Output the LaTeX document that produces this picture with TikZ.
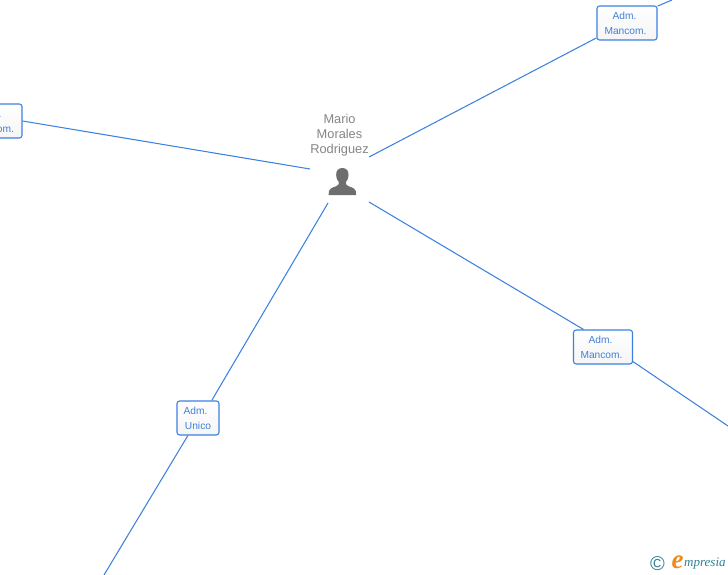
\documentclass[tikz,border=0pt]{standalone}
\usepackage{fontspec}
\setmainfont{Liberation Sans}
\newfontfamily\logofont[Ligatures=TeX]{Liberation Serif}
\definecolor{linkblue}{HTML}{3C80E0}
\definecolor{labelblue}{HTML}{4080D8}
\definecolor{namegrey}{HTML}{858585}
\definecolor{persongrey}{HTML}{6E6E6E}
\definecolor{logoteal}{HTML}{2F7F96}
\definecolor{logoorange}{HTML}{EE8A1E}
\newcommand{\rolerow}[2]{\raisebox{-1pt}{#1\hspace*{#2pt}}}
\tikzset{
  link/.style={draw=linkblue,line width=1.05pt},
  rolebox/.style={draw=linkblue,line width=1.1pt,rounded corners=2.6pt,top color=white,bottom color=black!4,
    text=labelblue,align=center,inner sep=0pt,font=\fontsize{10.2}{15}\selectfont},
}
\begin{document}
\begin{tikzpicture}[x=1pt,y=-1pt]
\useasboundingbox (0,0) rectangle (728,575);
\clip (0,0) rectangle (728,575);
% person anchors
\coordinate (pL) at (310,169);
\coordinate (pTR) at (369,157);
\coordinate (pBR) at (369,202);
\coordinate (pBL) at (328,203);
% free ends
\coordinate (fTR) at (672,0);
\coordinate (fBR) at (728,426);
\coordinate (fBL) at (104,575);
% boxes
\node[rolebox,minimum width=60pt,minimum height=34pt] (tr) at (627,23) {\rolerow{Adm.}{5}\\\rolerow{Mancom.}{3}};
\node[rolebox,minimum width=59pt,minimum height=34pt] (br) at (603,347) {\rolerow{Adm.}{5}\\\rolerow{Mancom.}{3}};
\node[rolebox,minimum width=42pt,minimum height=34pt] (bl) at (198,418) {\rolerow{Adm.}{5}\\\rolerow{Unico}{0}};
\node[rolebox,minimum width=60pt,minimum height=34pt] (lb) at (-8,121) {\rolerow{Adm.}{5}\\\rolerow{Mancom.}{-2}};
% connectors
\draw[link] (pL) -- (lb.east);
\draw[link] (pTR) -- (tr.206.6);
\draw[link] (tr.29.5) -- (fTR);
\draw[link] (pBR) -- (br.138);
\draw[link] (br.-26) -- (fBR);
\draw[link] (pBL) -- (bl.52.6);
\draw[link] (bl.240) -- (fBL);
% name
\node[text=namegrey,align=center,inner sep=0pt,font=\fontsize{12.8}{15}\selectfont] (name) at (339.5,135) {Mario\\Morales\\Rodriguez};
% person icon
\fill[persongrey] (342.3,168) .. controls (337.6,168) and (336,171.5) .. (336.2,175)
  .. controls (336.3,178.5) and (337.6,181) .. (339,182.4)
  .. controls (339.2,184.5) and (338,185.6) .. (335.5,186.5)
  .. controls (331.5,187.8) and (329.5,188.8) .. (329,191)
  -- (328.6,195) -- (356.2,195) -- (355.8,191)
  .. controls (355.2,188.8) and (353.2,187.8) .. (349.2,186.5)
  .. controls (346.7,185.6) and (345.5,184.5) .. (345.7,182.4)
  .. controls (347.1,181) and (348.4,178.5) .. (348.5,175)
  .. controls (348.7,171.5) and (347,168) .. (342.3,168) -- cycle;
% logo
\node[text=logoteal,inner sep=0pt,font=\fontsize{20}{20}\selectfont] (copy) at (657.5,564) {©};
\node[text=logoorange,inner sep=0pt,font=\logofont\itshape\bfseries\fontsize{27}{27}\selectfont] (loge) at (677.5,562) {e};
\node[text=logoteal,anchor=west,inner sep=0pt,font=\logofont\itshape\fontsize{13}{14}\selectfont] (logt) at (684,564) {mpresia};
\end{tikzpicture}
\end{document}
